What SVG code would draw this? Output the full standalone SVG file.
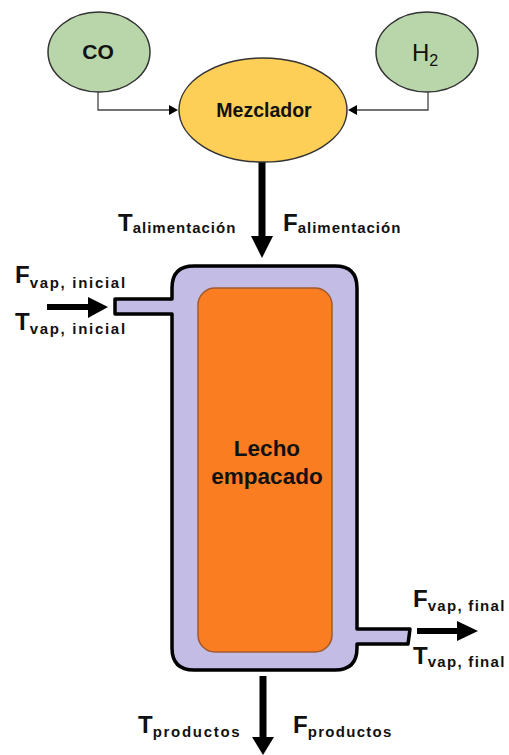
<svg xmlns="http://www.w3.org/2000/svg" width="509" height="755" viewBox="0 0 509 755">
<style>
text{font-family:"Liberation Sans",Arial,sans-serif;fill:#111;font-weight:bold}
.big{font-size:24px}
.sub{font-size:15px;letter-spacing:1px}
.wide{letter-spacing:1.7px}
.mid{letter-spacing:1.3px}
.thin{fill:none;stroke:#444;stroke-width:1.3}
.ah{fill:#000}
</style>
<rect width="509" height="755" fill="#fff"/>
<g id="connectors">
<path class="thin" d="M98 92V110H172"/>
<path class="ah" d="M178 110L169 105V115Z"/>
<path class="thin" d="M428 92V110H354"/>
<path class="ah" d="M348 110L357 105V115Z"/>
<path d="M262 162V240" stroke="#000" stroke-width="7" fill="none"/>
<path class="ah" d="M262 258L251 236H273Z"/>
<path d="M47 307H92" stroke="#000" stroke-width="6" fill="none"/>
<path class="ah" d="M108 307L88 297V318Z"/>
<path d="M417 631H462" stroke="#000" stroke-width="6" fill="none"/>
<path class="ah" d="M478 631L457 621V641Z"/>
<path d="M263 676V740" stroke="#000" stroke-width="7" fill="none"/>
<path class="ah" d="M263 755L252 737H274Z"/>
</g>
<g id="co"><ellipse cx="99" cy="52" rx="51" ry="40" fill="#b9d6ab" stroke="#333" stroke-width="1.5"/><text x="98" y="59" text-anchor="middle" font-size="21">CO</text></g>
<g id="h2"><ellipse cx="427" cy="52" rx="51" ry="40" fill="#b9d6ab" stroke="#333" stroke-width="1.5"/><text x="412" y="61" font-size="24" style="font-weight:normal">H<tspan font-size="16" dy="5">2</tspan></text></g>
<g id="mezclador"><ellipse cx="263" cy="110" rx="84" ry="52" fill="#fdcf57" stroke="#333" stroke-width="1.5"/><text x="264" y="117" text-anchor="middle" font-size="19.5">Mezclador</text></g>
<g id="reactor">
<path d="M172 299V288Q172 266 194 266H335Q357 266 357 288V629H410L408 644H357V648Q357 670 335 670H194Q172 670 172 648V314H115V299Z" fill="#c3bce4" stroke="#000" stroke-width="3.5" stroke-linejoin="round"/>
<rect x="198" y="288" width="134" height="364" rx="17" fill="#fb7d22" stroke="#a05a30" stroke-width="1.5"/>
<text x="267" y="456" text-anchor="middle" font-size="22.5">Lecho</text>
<text x="267" y="484" text-anchor="middle" font-size="22.5">empacado</text>
</g>
<g id="labels">
<text x="118" y="231" class="big">T<tspan class="sub" dy="2">alimentación</tspan></text>
<text x="283" y="231" class="big">F<tspan class="sub" dy="2">alimentación</tspan></text>
<text x="15" y="283" class="big">F<tspan class="sub wide" dy="5">vap, inicial</tspan></text>
<text x="15" y="330" class="big">T<tspan class="sub wide" dy="4">vap, inicial</tspan></text>
<text x="413" y="607" class="big">F<tspan class="sub mid" dy="4">vap, final</tspan></text>
<text x="413" y="664" class="big">T<tspan class="sub mid" dy="3">vap, final</tspan></text>
<text x="138" y="733" class="big">T<tspan class="sub wide" dy="4">productos</tspan></text>
<text x="293" y="733" class="big">F<tspan class="sub mid" dy="4">productos</tspan></text>
</g>
</svg>
